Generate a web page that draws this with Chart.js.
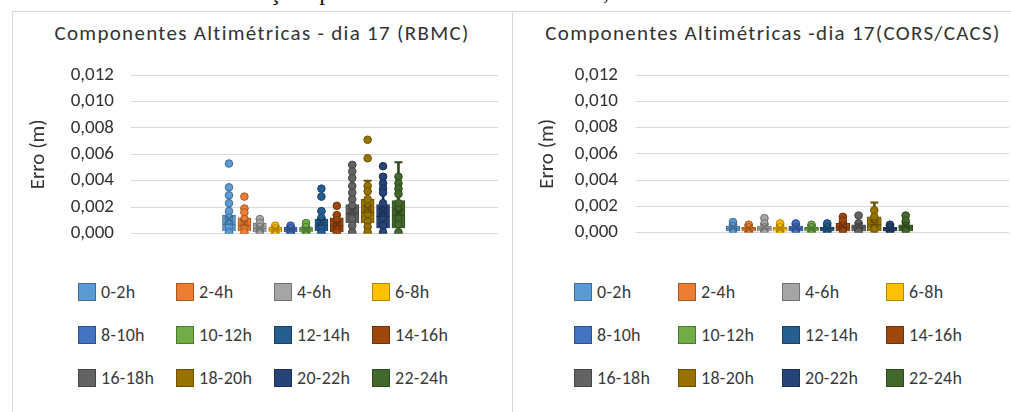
<!DOCTYPE html>
<html>
<head>
<meta charset="utf-8">
<script src="https://cdn.jsdelivr.net/npm/chart.js@4.4.0/dist/chart.umd.min.js"></script>
<style>
body{margin:0;width:1011px;height:412px;overflow:hidden;background:#fff;position:relative;font-family:Carlito,Lato,sans-serif;}
.caption{position:absolute;z-index:3;top:-19px;left:0;width:1004px;text-align:center;font:24.5px 'Liberation Serif',serif;line-height:22px;color:#111;white-space:nowrap;}
.panel{position:absolute;top:11px;height:420px;border:1px solid #d9d9d9;background:#fff;}
.panel canvas{position:absolute;left:0;top:0;}
.ptitle{position:absolute;top:9px;left:0;text-align:center;font-size:21px;letter-spacing:1.3px;line-height:24px;color:#333;white-space:nowrap;}
.legend{position:absolute;top:258px;display:grid;grid-auto-rows:43px;}
.item{display:flex;align-items:center;font-size:18px;letter-spacing:0.3px;color:#3a3a3a;}
.sw{border:1px solid;margin-right:5px;box-sizing:border-box;width:18px;height:18px;}
</style>
</head>
<body>
<div class="caption">estações pertencentes às redes RBMC, CORS e CACS.</div>

<div class="panel" style="left:12px;width:499px;">
  <div class="ptitle" style="width:498px;">Componentes Altimétricas - dia 17 (RBMC)</div>
  <canvas id="rbmcChart" width="499" height="250"></canvas>
  <div class="legend" id="rbmcLegend" style="left:65px;grid-template-columns:repeat(4,98px);"></div>
</div>

<div class="panel" style="left:512px;width:520px;">
  <div class="ptitle" style="width:520px;">Componentes Altimétricas -dia 17(CORS/CACS)</div>
  <canvas id="corsChart" width="520" height="250"></canvas>
  <div class="legend" id="corsLegend" style="left:61px;grid-template-columns:repeat(4,104px);"></div>
</div>

<script>
// Séries (intervalos de horas)
const labels = ['0-2h', '2-4h', '4-6h', '6-8h', '8-10h', '10-12h', '12-14h', '14-16h', '16-18h', '18-20h', '20-22h', '22-24h'];
const colors = ['#5B9BD5', '#ED7D31', '#A5A5A5', '#FFC000', '#4472C4', '#70AD47', '#255E91', '#9E480E', '#636363', '#997300', '#264478', '#43682B'];
const yTicks = [0, 0.002, 0.004, 0.006, 0.008, 0.010, 0.012];

// RBMC - pontos e estatísticas do box plot (m)
const rbmcPoints = [
    [0.0053, 0.0035, 0.0029, 0.0023, 0.0017, 0.0012, 0.0008, 0.0005, 0.0001],
    [0.0028, 0.0019, 0.0016, 0.0011, 0.0007, 0.0004, 0.0001],
    [0.0011, 0.0008, 0.0005, 0.0002, 0.0001],
    [0.0006, 0.0004, 0.0002, 0.0001],
    [0.0006, 0.0004, 0.0002, 0.0001],
    [0.0008, 0.0005, 0.0002, 0.0001],
    [0.0034, 0.0028, 0.0017, 0.0012, 0.0008, 0.0004, 0.0001],
    [0.0021, 0.0014, 0.0010, 0.0006, 0.0003, 0.0001],
    [0.0052, 0.0047, 0.0042, 0.0036, 0.0031, 0.0026, 0.0021, 0.0016, 0.0011, 0.0006, 0.0001],
    [0.0071, 0.0057, 0.0036, 0.0032, 0.0026, 0.0020, 0.0015, 0.0009, 0.0005, 0.0001],
    [0.0051, 0.0043, 0.0038, 0.0034, 0.0031, 0.0023, 0.0017, 0.0012, 0.0006, 0.0001],
    [0.0043, 0.0038, 0.0034, 0.0030, 0.0023, 0.0018, 0.0012, 0.0007, 0.0001]
];
const rbmcQ1 = [0.0002, 0.0002, 0.0001, 0.0001, 0.0001, 0.0001, 0.0002, 0.0001, 0.0008, 0.0008, 0.0004, 0.0004];
const rbmcMedian = [0.0007, 0.0006, 0.0004, 0.0003, 0.0003, 0.0003, 0.0006, 0.0006, 0.0015, 0.0016, 0.0013, 0.0014];
const rbmcQ3 = [0.0014, 0.0012, 0.0008, 0.0005, 0.0005, 0.0005, 0.0011, 0.0012, 0.0022, 0.0026, 0.0022, 0.0025];
const rbmcMin = [0, 0, 0, 0, 0, 0, 0, 0, 0, 0, 0, 0];
const rbmcMax = [0.0029, 0.0019, 0.0011, 0.0006, 0.0006, 0.0009, 0.0017, 0.0014, 0.0052, 0.0040, 0.0044, 0.0054];
const rbmcMean = [0.0011, 0.0008, 0.0004, 0.0003, 0.0003, 0.0003, 0.0009, 0.0007, 0.0017, 0.0019, 0.0017, 0.0016];

// CORS/CACS
const corsPoints = [
    [0.0008, 0.0005, 0.0002],
    [0.0006, 0.0004, 0.0001],
    [0.0011, 0.0007, 0.0004, 0.0001],
    [0.0007, 0.0004, 0.0001],
    [0.0007, 0.0004, 0.0001],
    [0.0006, 0.0004, 0.0001],
    [0.0007, 0.0004, 0.0001],
    [0.0012, 0.0009, 0.0005, 0.0002],
    [0.0013, 0.0007, 0.0004, 0.0001],
    [0.0017, 0.0012, 0.0007, 0.0003],
    [0.0006, 0.0004, 0.0001],
    [0.0013, 0.0009, 0.0005, 0.0002]
];
const corsQ1 = [0.0001, 0.0001, 0.0001, 0.0001, 0.0001, 0.0001, 0.0001, 0.0001, 0.0001, 0.0001, 0.0001, 0.0001];
const corsMedian = [0.0003, 0.0003, 0.0003, 0.0003, 0.0003, 0.0003, 0.0003, 0.0004, 0.0004, 0.0006, 0.0003, 0.0004];
const corsQ3 = [0.0005, 0.0004, 0.0005, 0.0004, 0.0005, 0.0004, 0.0004, 0.0007, 0.0006, 0.0012, 0.0004, 0.0006];
const corsMin = [0, 0, 0, 0, 0, 0, 0, 0, 0, 0, 0, 0];
const corsMax = [0.0008, 0.0006, 0.0011, 0.0007, 0.0007, 0.0006, 0.0007, 0.0012, 0.0013, 0.0023, 0.0006, 0.0013];
const corsMean = [0.0004, 0.0003, 0.0004, 0.0003, 0.0004, 0.0003, 0.0003, 0.0005, 0.0005, 0.0007, 0.0003, 0.0005];

// cor mais escura para contornos
function shade(hex, f) {
    const n = parseInt(hex.slice(1), 16);
    const r = Math.round(((n >> 16) & 255) * f);
    const g = Math.round(((n >> 8) & 255) * f);
    const b = Math.round((n & 255) * f);
    return 'rgb(' + r + ',' + g + ',' + b + ')';
}
const dark = colors.map(c => shade(c, 0.7));
const idx = labels.map((_, i) => i);

function boxChart(id, pts, q1, med, q3, lo, hi, mean, cfg) {
    const datasets = [];
    // bigodes
    datasets.push({
        type: 'bar', data: idx.map(i => ({x: i, y: [lo[i], hi[i]]})),
        backgroundColor: dark, barThickness: 2, grouped: false, order: 7
    });
    // caixas
    datasets.push({
        type: 'bar', data: idx.map(i => ({x: i, y: [q1[i], q3[i]]})),
        backgroundColor: colors, borderColor: dark, borderWidth: 1,
        barThickness: cfg.boxWidth, grouped: false, order: 6
    });
    // extremos dos bigodes
    datasets.push({
        type: 'scatter', data: idx.flatMap(i => [{x: i, y: lo[i]}, {x: i, y: hi[i]}]),
        pointStyle: 'line', pointRadius: 4, borderWidth: 2,
        borderColor: ctx => dark[ctx.raw ? ctx.raw.x : 0], order: 5
    });
    // pontos
    pts.forEach((arr, i) => {
        datasets.push({
            type: 'scatter', data: arr.map(v => ({x: i, y: v})),
            pointStyle: 'circle', pointRadius: 3.8, borderWidth: 1,
            backgroundColor: colors[i], borderColor: dark[i], order: 4
        });
    });
    // mediana
    datasets.push({
        type: 'scatter', data: idx.map(i => ({x: i, y: med[i]})),
        pointStyle: 'line', pointRadius: cfg.boxWidth / 2, borderWidth: 1,
        borderColor: ctx => dark[ctx.raw ? ctx.raw.x : 0], order: 3
    });
    // média
    datasets.push({
        type: 'scatter', data: idx.map(i => ({x: i, y: mean[i]})),
        pointStyle: 'crossRot', pointRadius: 5.5, borderWidth: 2,
        borderColor: ctx => dark[ctx.raw ? ctx.raw.x : 0], order: 2
    });

    return new Chart(document.getElementById(id), {
        type: 'bar',
        data: {datasets: datasets},
        options: {
            responsive: false,
            animation: false,
            layout: {padding: {top: 63, bottom: 25, left: 0, right: cfg.padRight}},
            plugins: {legend: {display: false}, tooltip: {enabled: false}},
            scales: {
                x: {type: 'linear', offset: false, min: cfg.xMin, max: cfg.xMax, display: false},
                y: {
                    min: 0, max: 0.012,
                    afterFit: s => { s.width = cfg.axisWidth; },
                    afterBuildTicks: s => { s.ticks = yTicks.map(v => ({value: v})); },
                    border: {display: false},
                    grid: {color: '#d9d9d9', drawTicks: false, lineWidth: 1},
                    ticks: {
                        padding: cfg.tickPad, color: '#333',
                        font: {family: 'Carlito, Lato, sans-serif', size: 19},
                        callback: v => v.toFixed(3).replace('.', ',')
                    },
                    title: {
                        display: true, text: 'Erro (m)', color: '#333',
                        font: {family: 'Carlito, Lato, sans-serif', size: 21},
                        padding: {top: cfg.titlePad, bottom: 0}
                    }
                }
            }
        }
    });
}

function legend(id) {
    const el = document.getElementById(id);
    labels.forEach((l, i) => {
        const item = document.createElement('div');
        item.className = 'item';
        item.innerHTML = '<span class="sw" style="background:' + colors[i] + ';border-color:' + dark[i] + '"></span>' + l;
        el.appendChild(item);
    });
}

boxChart('rbmcChart', rbmcPoints, rbmcQ1, rbmcMedian, rbmcQ3, rbmcMin, rbmcMax, rbmcMean,
    {padRight: 14, axisWidth: 118, tickPad: 17, titlePad: 13, boxWidth: 13, xMin: -6.36, xMax: 17.46});
boxChart('corsChart', corsPoints, corsQ1, corsMedian, corsQ3, corsMin, corsMax, corsMean,
    {padRight: 24, axisWidth: 123, tickPad: 18, titlePad: 22, boxWidth: 14, xMin: -6.18, xMax: 17.58});
legend('rbmcLegend');
legend('corsLegend');
</script>
</body>
</html>
